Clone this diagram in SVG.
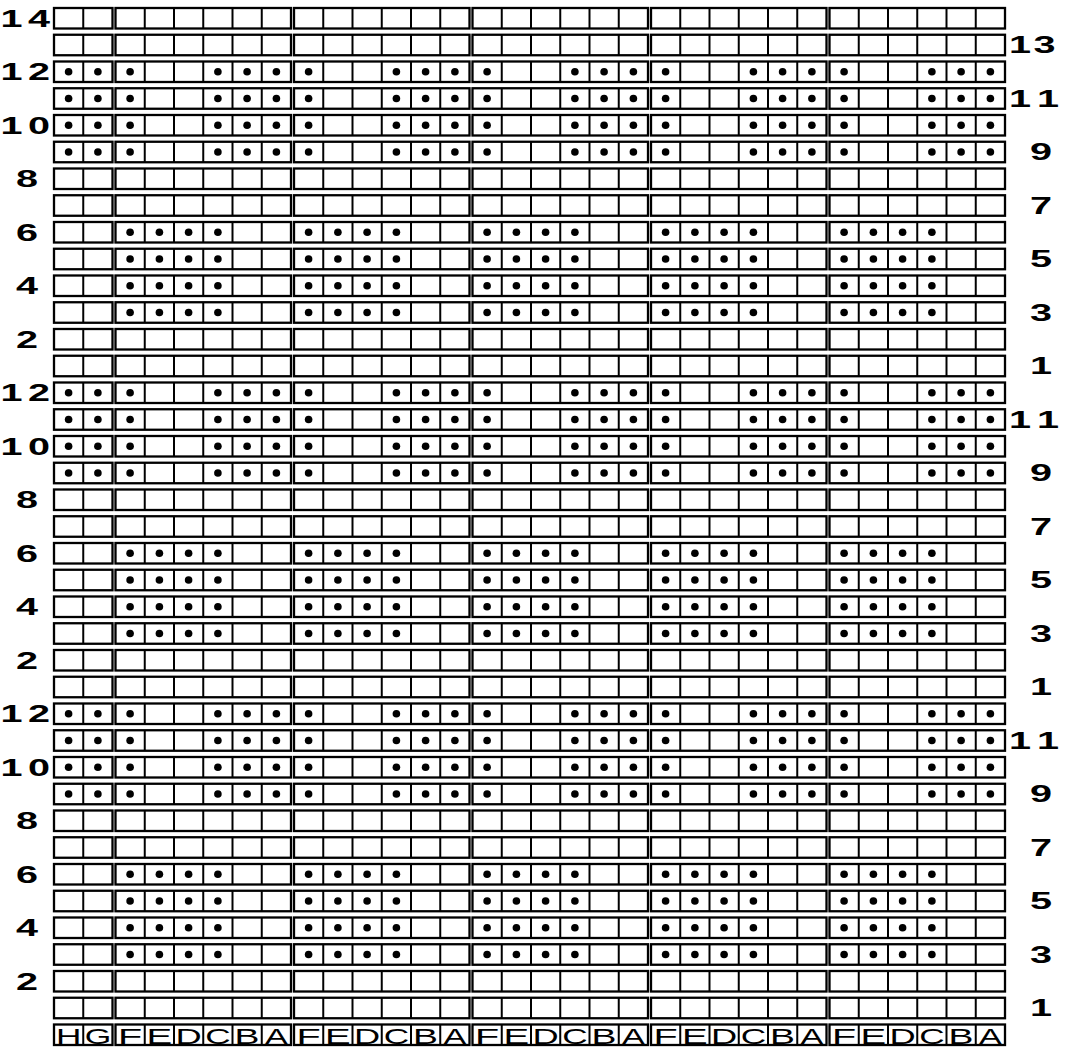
<svg xmlns="http://www.w3.org/2000/svg" width="1068" height="1049" viewBox="0 0 1068 1049">
<style>
.cell{fill:#fff;stroke:#000;stroke-width:2.3}
.div{stroke:#000;stroke-width:2}
.dot{fill:#000}
.num{font-family:"Liberation Sans",Arial,sans-serif;font-weight:bold;font-size:24px;fill:#000;text-anchor:middle}
.lt{font-family:"Liberation Sans",Arial,sans-serif;font-size:22px;fill:#000;text-anchor:middle}
</style>
<defs>
<g id="g6">
<rect class="cell" x="0" y="0" width="175.5" height="20.5"/>
<line class="div" x1="29.25" y1="0" x2="29.25" y2="20.5"/>
<line class="div" x1="58.5" y1="0" x2="58.5" y2="20.5"/>
<line class="div" x1="87.75" y1="0" x2="87.75" y2="20.5"/>
<line class="div" x1="117" y1="0" x2="117" y2="20.5"/>
<line class="div" x1="146.25" y1="0" x2="146.25" y2="20.5"/>
</g>
<g id="row">
<rect class="cell" x="54" y="0" width="58.5" height="20.5"/>
<line class="div" x1="83.25" y1="0" x2="83.25" y2="20.5"/>
<use href="#g6" x="115.5"/>
<use href="#g6" x="294"/>
<use href="#g6" x="472.5"/>
<use href="#g6" x="651"/>
<use href="#g6" x="829.5"/>
</g>
<g id="dA6">
<circle class="dot" cx="14.6" cy="10.25" r="3.8"/>
<circle class="dot" cx="102.4" cy="10.25" r="3.8"/>
<circle class="dot" cx="131.6" cy="10.25" r="3.8"/>
<circle class="dot" cx="160.9" cy="10.25" r="3.8"/>
</g>
<g id="dB6">
<circle class="dot" cx="14.6" cy="10.25" r="3.8"/>
<circle class="dot" cx="43.9" cy="10.25" r="3.8"/>
<circle class="dot" cx="73.1" cy="10.25" r="3.8"/>
<circle class="dot" cx="102.4" cy="10.25" r="3.8"/>
</g>
<g id="dotsA">
<circle class="dot" cx="68.6" cy="10.25" r="3.8"/>
<circle class="dot" cx="97.9" cy="10.25" r="3.8"/>
<use href="#dA6" x="115.5"/>
<use href="#dA6" x="294"/>
<use href="#dA6" x="472.5"/>
<use href="#dA6" x="651"/>
<use href="#dA6" x="829.5"/>
</g>
<g id="dotsB">
<use href="#dB6" x="115.5"/>
<use href="#dB6" x="294"/>
<use href="#dB6" x="472.5"/>
<use href="#dB6" x="651"/>
<use href="#dB6" x="829.5"/>
</g>
<g id="let6">
<text class="lt" transform="translate(14.6,19) scale(1.8,1)">F</text>
<text class="lt" transform="translate(43.9,19) scale(1.75,1)">E</text>
<text class="lt" transform="translate(73.1,19) scale(1.65,1)">D</text>
<text class="lt" transform="translate(102.4,19) scale(1.6,1)">C</text>
<text class="lt" transform="translate(131.6,19) scale(1.7,1)">B</text>
<text class="lt" transform="translate(160.9,19) scale(1.55,1)">A</text>
</g>
</defs>
<rect width="1068" height="1049" fill="#fff"/>
<g id="grid">
<use href="#row" y="8"/>
<use href="#row" y="34.75"/>
<use href="#row" y="61.5"/>
<use href="#row" y="88.25"/>
<use href="#row" y="115"/>
<use href="#row" y="141.75"/>
<use href="#row" y="168.5"/>
<use href="#row" y="195.25"/>
<use href="#row" y="222"/>
<use href="#row" y="248.75"/>
<use href="#row" y="275.5"/>
<use href="#row" y="302.25"/>
<use href="#row" y="329"/>
<use href="#row" y="355.75"/>
<use href="#row" y="382.5"/>
<use href="#row" y="409.25"/>
<use href="#row" y="436"/>
<use href="#row" y="462.75"/>
<use href="#row" y="489.5"/>
<use href="#row" y="516.25"/>
<use href="#row" y="543"/>
<use href="#row" y="569.75"/>
<use href="#row" y="596.5"/>
<use href="#row" y="623.25"/>
<use href="#row" y="650"/>
<use href="#row" y="676.75"/>
<use href="#row" y="703.5"/>
<use href="#row" y="730.25"/>
<use href="#row" y="757"/>
<use href="#row" y="783.75"/>
<use href="#row" y="810.5"/>
<use href="#row" y="837.25"/>
<use href="#row" y="864"/>
<use href="#row" y="890.75"/>
<use href="#row" y="917.5"/>
<use href="#row" y="944.25"/>
<use href="#row" y="971"/>
<use href="#row" y="997.75"/>
<use href="#row" y="1024.5"/>
</g>
<g id="dots">
<use href="#dotsA" y="61.5"/>
<use href="#dotsA" y="88.25"/>
<use href="#dotsA" y="115"/>
<use href="#dotsA" y="141.75"/>
<use href="#dotsB" y="222"/>
<use href="#dotsB" y="248.75"/>
<use href="#dotsB" y="275.5"/>
<use href="#dotsB" y="302.25"/>
<use href="#dotsA" y="382.5"/>
<use href="#dotsA" y="409.25"/>
<use href="#dotsA" y="436"/>
<use href="#dotsA" y="462.75"/>
<use href="#dotsB" y="543"/>
<use href="#dotsB" y="569.75"/>
<use href="#dotsB" y="596.5"/>
<use href="#dotsB" y="623.25"/>
<use href="#dotsA" y="703.5"/>
<use href="#dotsA" y="730.25"/>
<use href="#dotsA" y="757"/>
<use href="#dotsA" y="783.75"/>
<use href="#dotsB" y="864"/>
<use href="#dotsB" y="890.75"/>
<use href="#dotsB" y="917.5"/>
<use href="#dotsB" y="944.25"/>
</g>
<g id="letters">
<text class="lt" transform="translate(68.6,1043.5) scale(1.6,1)">H</text>
<text class="lt" transform="translate(97.9,1043.5) scale(1.55,1)">G</text>
<use href="#let6" x="115.5" y="1024.5"/>
<use href="#let6" x="294" y="1024.5"/>
<use href="#let6" x="472.5" y="1024.5"/>
<use href="#let6" x="651" y="1024.5"/>
<use href="#let6" x="829.5" y="1024.5"/>
</g>
<g id="left-labels" class="num">
<text transform="translate(0,26.5) scale(1.65,1)"><tspan x="6.97">1</tspan><tspan x="23.64">4</tspan></text>
<text transform="translate(0,80) scale(1.65,1)"><tspan x="6.97">1</tspan><tspan x="23.64">2</tspan></text>
<text transform="translate(0,133.5) scale(1.65,1)"><tspan x="6.97">1</tspan><tspan x="23.64">0</tspan></text>
<text transform="translate(0,187) scale(1.65,1)" x="16.36">8</text>
<text transform="translate(0,240.5) scale(1.65,1)" x="16.36">6</text>
<text transform="translate(0,294) scale(1.65,1)" x="16.36">4</text>
<text transform="translate(0,347.5) scale(1.65,1)" x="16.36">2</text>
<text transform="translate(0,401) scale(1.65,1)"><tspan x="6.97">1</tspan><tspan x="23.64">2</tspan></text>
<text transform="translate(0,454.5) scale(1.65,1)"><tspan x="6.97">1</tspan><tspan x="23.64">0</tspan></text>
<text transform="translate(0,508) scale(1.65,1)" x="16.36">8</text>
<text transform="translate(0,561.5) scale(1.65,1)" x="16.36">6</text>
<text transform="translate(0,615) scale(1.65,1)" x="16.36">4</text>
<text transform="translate(0,668.5) scale(1.65,1)" x="16.36">2</text>
<text transform="translate(0,722) scale(1.65,1)"><tspan x="6.97">1</tspan><tspan x="23.64">2</tspan></text>
<text transform="translate(0,775.5) scale(1.65,1)"><tspan x="6.97">1</tspan><tspan x="23.64">0</tspan></text>
<text transform="translate(0,829) scale(1.65,1)" x="16.36">8</text>
<text transform="translate(0,882.5) scale(1.65,1)" x="16.36">6</text>
<text transform="translate(0,936) scale(1.65,1)" x="16.36">4</text>
<text transform="translate(0,989.5) scale(1.65,1)" x="16.36">2</text>
</g>
<g id="right-labels" class="num">
<text transform="translate(0,53.25) scale(1.65,1)"><tspan x="618.2">1</tspan><tspan x="633">3</tspan></text>
<text transform="translate(0,106.75) scale(1.65,1)"><tspan x="618.2">1</tspan><tspan x="635.2">1</tspan></text>
<text transform="translate(0,160.25) scale(1.65,1)" x="630.9">9</text>
<text transform="translate(0,213.75) scale(1.65,1)" x="630.9">7</text>
<text transform="translate(0,267.25) scale(1.65,1)" x="630.9">5</text>
<text transform="translate(0,320.75) scale(1.65,1)" x="630.9">3</text>
<text transform="translate(0,374.25) scale(1.65,1)" x="630.9">1</text>
<text transform="translate(0,427.75) scale(1.65,1)"><tspan x="618.2">1</tspan><tspan x="635.2">1</tspan></text>
<text transform="translate(0,481.25) scale(1.65,1)" x="630.9">9</text>
<text transform="translate(0,534.75) scale(1.65,1)" x="630.9">7</text>
<text transform="translate(0,588.25) scale(1.65,1)" x="630.9">5</text>
<text transform="translate(0,641.75) scale(1.65,1)" x="630.9">3</text>
<text transform="translate(0,695.25) scale(1.65,1)" x="630.9">1</text>
<text transform="translate(0,748.75) scale(1.65,1)"><tspan x="618.2">1</tspan><tspan x="635.2">1</tspan></text>
<text transform="translate(0,802.25) scale(1.65,1)" x="630.9">9</text>
<text transform="translate(0,855.75) scale(1.65,1)" x="630.9">7</text>
<text transform="translate(0,909.25) scale(1.65,1)" x="630.9">5</text>
<text transform="translate(0,962.75) scale(1.65,1)" x="630.9">3</text>
<text transform="translate(0,1016.25) scale(1.65,1)" x="630.9">1</text>
</g>
</svg>
